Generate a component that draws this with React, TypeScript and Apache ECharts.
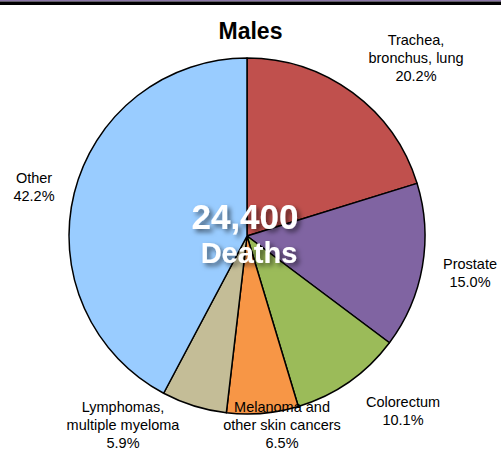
import React, { useEffect, useRef } from "react";
import * as echarts from "echarts";

const categories = [
  "Trachea,\nbronchus, lung",
  "Prostate",
  "Colorectum",
  "Melanoma and\nother skin cancers",
  "Lymphomas,\nmultiple myeloma",
  "Other",
];
const shares = [20.2, 15.0, 10.1, 6.5, 5.9, 42.2];
const colors = ["#C0504D", "#8064A2", "#9BBB59", "#F79646", "#C4BD97", "#99CCFF"];
const titleText = "Males";
const totalText = "24,400";
const unitText = "Deaths";

// label anchor points (layout only)
const labelAnchors: [number, number][] = [
  [416, 58],
  [470, 273],
  [403, 410.5],
  [282, 425],
  [123, 425],
  [34, 187],
];

const FONT = "'Liberation Sans', Arial, Helvetica, sans-serif";

export default function App() {
  const ref = useRef<HTMLDivElement>(null);
  useEffect(() => {
    document.body.style.margin = "0";
    const chart = echarts.init(ref.current!, undefined, { renderer: "svg" });
    chart.setOption({
      animation: false,
      backgroundColor: "#ffffff",
      title: {
        text: titleText,
        left: "center",
        top: 14,
        textStyle: { fontFamily: FONT, fontSize: 23, fontWeight: "bold", color: "#000" },
      },
      graphic: [
        { type: "rect", shape: { x: 0, y: 0, width: 501, height: 1.5 }, style: { fill: "#8a76a6" } },
        { type: "rect", shape: { x: 0, y: 1.5, width: 501, height: 3.4 }, style: { fill: "#000000" } },
        {
          type: "text",
          x: 245,
          y: 216,
          z: 100,
          style: {
            text: totalText,
            fill: "#ffffff",
            font: `bold 35px ${FONT}`,
            align: "center",
            verticalAlign: "middle",
            textShadowColor: "rgba(0,0,0,0.55)",
            textShadowBlur: 5,
            textShadowOffsetX: 3,
            textShadowOffsetY: 3,
          },
        },
        {
          type: "text",
          x: 249,
          y: 253,
          z: 100,
          style: {
            text: unitText,
            fill: "#ffffff",
            font: `bold 29px ${FONT}`,
            align: "center",
            verticalAlign: "middle",
            textShadowColor: "rgba(0,0,0,0.55)",
            textShadowBlur: 5,
            textShadowOffsetX: 3,
            textShadowOffsetY: 3,
          },
        },
      ],
      series: [
        {
          type: "pie",
          center: [247, 236],
          radius: 178,
          startAngle: 90,
          clockwise: true,
          avoidLabelOverlap: false,
          data: categories.map((name, i) => ({
            name,
            value: shares[i],
            itemStyle: { color: colors[i] },
          })),
          itemStyle: { borderColor: "#000000", borderWidth: 1.5 },
          label: {
            show: true,
            position: "outside",
            formatter: (p: any) => `${p.name}\n${Number(p.value).toFixed(1)}%`,
            fontFamily: FONT,
            fontSize: 14.5,
            lineHeight: 18,
            color: "#000000",
            align: "center",
          },
          labelLine: { show: false },
          labelLayout: (params: any) => {
            const a = labelAnchors[params.dataIndex];
            return { x: a[0], y: a[1], align: "center", verticalAlign: "middle" };
          },
          emphasis: { disabled: true },
        },
      ],
    });
    return () => chart.dispose();
  }, []);
  return <div ref={ref} style={{ width: 501, height: 451, position: "fixed", left: 0, top: 0 }} />;
}
